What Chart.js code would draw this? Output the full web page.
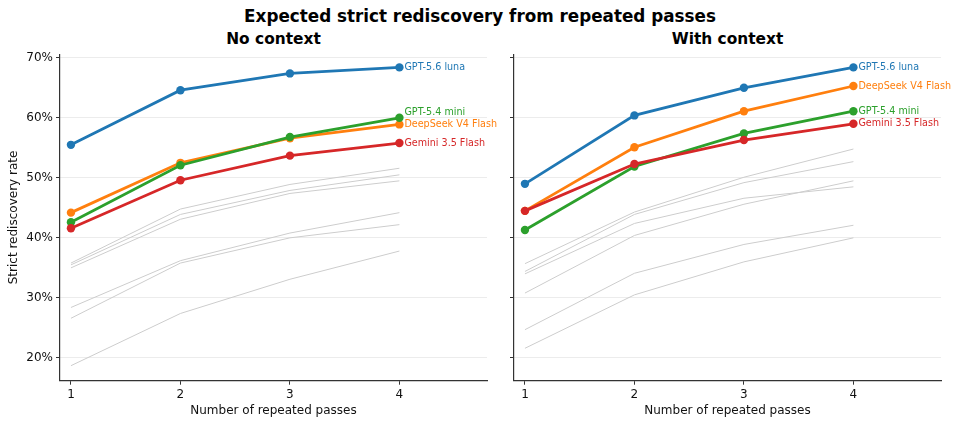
<!DOCTYPE html>
<html lang="en">
<head>
    <meta charset="UTF-8">
    <title>Expected strict rediscovery from repeated passes</title>
    <style>
        body {
            margin: 0;
            background-color: #fff;
            font-family: "DejaVu Sans", sans-serif;
        }
        #wrap {
            position: relative;
            width: 960px;
            height: 426px;
        }
        .suptitle, .subtitle {
            position: absolute;
            font-weight: bold;
            color: #000;
            white-space: nowrap;
            transform: translateX(-50%);
            line-height: 20px;
            height: 20px;
        }
        .suptitle {
            left: 480px;
            top: 6px;
            font-size: 16.8px;
        }
        .subtitle {
            top: 29px;
            font-size: 15.4px;
        }
        .panel {
            position: absolute;
            top: 50px;
            height: 376px;
        }
    </style>
</head>
<body>
<div id="wrap">
    <div class="suptitle">Expected strict rediscovery from repeated passes</div>
    <div class="subtitle" style="left:273.5px">No context</div>
    <div class="subtitle" style="left:727.5px">With context</div>
    <!-- left canvas is wider than its plot so the end labels can run past the axis -->
    <div class="panel" style="left:0;width:520px"><canvas id="noContextChart"></canvas></div>
    <div class="panel" style="left:490px;width:470px"><canvas id="withContextChart"></canvas></div>
</div>

<script src="https://cdn.jsdelivr.net/npm/chart.js"></script>
<script>
    // x categories and y ticks
    const passes = [1, 2, 3, 4];
    const yTicks = [20, 30, 40, 50, 60, 70];

    const modelNames = ['GPT-5.6 luna', 'DeepSeek V4 Flash', 'GPT-5.4 mini', 'Gemini 3.5 Flash'];
    const modelColors = ['#1f77b4', '#ff7f0e', '#2ca02c', '#d62728'];

    // No context (%)
    const lunaNoCtx = [55.5, 64.6, 67.4, 68.4];
    const deepseekNoCtx = [44.2, 52.5, 56.6, 58.9];
    const miniNoCtx = [42.6, 52.1, 56.8, 60.0];
    const geminiNoCtx = [41.6, 49.6, 53.7, 55.8];
    const otherNoCtx = [
        [35.8, 44.8, 48.9, 51.6],
        [35.5, 43.9, 47.9, 50.5],
        [35.0, 43.1, 47.4, 49.5],
        [28.4, 36.2, 40.8, 44.2],
        [26.6, 35.8, 40.0, 42.2],
        [18.7, 27.4, 33.1, 37.8]
    ];

    // With context (%)
    const lunaCtx = [49.0, 60.4, 65.0, 68.4];
    const deepseekCtx = [44.5, 55.1, 61.1, 65.3];
    const miniCtx = [41.3, 51.9, 57.4, 61.1];
    const geminiCtx = [44.5, 52.3, 56.3, 59.0];
    const otherCtx = [
        [35.7, 44.3, 50.1, 54.8],
        [34.4, 43.9, 49.2, 52.7],
        [34.0, 42.4, 46.6, 48.5],
        [30.8, 40.4, 45.6, 49.5],
        [24.7, 34.1, 38.9, 42.1],
        [21.6, 30.5, 36.0, 40.0]
    ];

    function toPoints(values) {
        return passes.map((p, i) => ({ x: p, y: values[i] }));
    }

    // model names next to the last point, nudged up when they would overlap
    const endLabels = {
        id: 'endLabels',
        afterDatasetsDraw(chart) {
            const ctx = chart.ctx;
            const items = [];
            chart.data.datasets.forEach((ds, i) => {
                if (!ds.endLabel) return;
                const meta = chart.getDatasetMeta(i);
                const pt = meta.data[meta.data.length - 1];
                items.push({ text: ds.label, color: ds.borderColor, x: pt.x, y: pt.y });
            });
            items.sort((a, b) => b.y - a.y);
            for (let i = 1; i < items.length; i++) {
                items[i].y = Math.min(items[i].y, items[i - 1].y - 12);
            }
            ctx.save();
            ctx.font = '9.6px "DejaVu Sans"';
            ctx.textAlign = 'left';
            ctx.textBaseline = 'middle';
            items.forEach(it => {
                ctx.fillStyle = it.color;
                ctx.fillText(it.text, it.x + 5, it.y);
            });
            ctx.restore();
        }
    };

    function buildChart(canvasId, series, others, showYLabels, yAxisWidth, rightPad) {
        const datasets = [];
        const orders = [4, 3, 2, 1];
        series.forEach((vals, i) => {
            datasets.push({
                label: modelNames[i],
                data: toPoints(vals),
                borderColor: modelColors[i],
                backgroundColor: modelColors[i],
                borderWidth: 2.8,
                pointRadius: 4.2,
                pointBorderWidth: 0,
                pointHoverRadius: 4.2,
                order: orders[i],
                endLabel: true
            });
        });
        others.forEach(vals => {
            datasets.push({
                label: 'other',
                data: toPoints(vals),
                borderColor: '#cdcdcd',
                borderWidth: 1,
                pointRadius: 0,
                order: 10
            });
        });

        return new Chart(document.getElementById(canvasId), {
            type: 'line',
            data: { datasets: datasets },
            options: {
                responsive: true,
                maintainAspectRatio: false,
                animation: false,
                layout: { padding: { left: 0, right: rightPad, top: 3.3, bottom: 0 } },
                plugins: {
                    legend: { display: false },
                    tooltip: { enabled: false }
                },
                scales: {
                    x: {
                        type: 'linear',
                        min: 0.9,
                        max: 4.8,
                        afterBuildTicks: scale => { scale.ticks = passes.map(v => ({ value: v })); },
                        afterFit: scale => {
                            scale.height = 45.3;
                            scale.paddingLeft = 0;
                            scale.paddingRight = 0;
                        },
                        ticks: {
                            color: '#111',
                            font: { family: 'DejaVu Sans', size: 12 },
                            padding: 3,
                            maxRotation: 0
                        },
                        grid: { drawOnChartArea: false, tickColor: '#333', tickLength: 4 },
                        border: { color: '#333', width: 1.2 },
                        title: {
                            display: true,
                            text: 'Number of repeated passes',
                            color: '#111',
                            font: { family: 'DejaVu Sans', size: 12 },
                            padding: { top: 0, bottom: 8 }
                        }
                    },
                    y: {
                        min: 16.2,
                        max: 70.6,
                        afterBuildTicks: scale => { scale.ticks = yTicks.map(v => ({ value: v })); },
                        afterFit: scale => {
                            scale.width = yAxisWidth;
                            scale.paddingTop = 0;
                            scale.paddingBottom = 0;
                        },
                        ticks: {
                            display: showYLabels,
                            color: '#111',
                            font: { family: 'DejaVu Sans', size: 12 },
                            padding: 3,
                            callback: v => v + '%'
                        },
                        grid: { color: '#ececec', lineWidth: 1, tickColor: '#333', tickLength: 4 },
                        border: { color: '#333', width: 1.2 },
                        title: {
                            display: showYLabels,
                            text: 'Strict rediscovery rate',
                            color: '#111',
                            font: { family: 'DejaVu Sans', size: 12 },
                            padding: { top: 7, bottom: 0 }
                        }
                    }
                }
            },
            plugins: [endLabels]
        });
    }

    buildChart('noContextChart', [lunaNoCtx, deepseekNoCtx, miniNoCtx, geminiNoCtx], otherNoCtx, true, 60, 33);
    buildChart('withContextChart', [lunaCtx, deepseekCtx, miniCtx, geminiCtx], otherCtx, false, 24, 19);
</script>
</body>
</html>
